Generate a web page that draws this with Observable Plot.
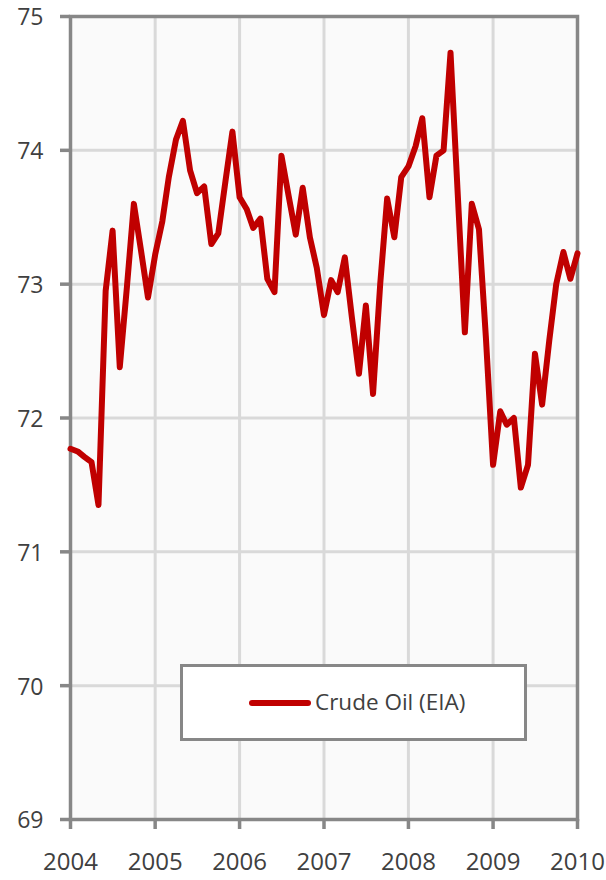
<!DOCTYPE html>
<html>
<head>
<meta charset="utf-8">
<script src="https://cdn.jsdelivr.net/npm/d3@7"></script>
<script src="https://cdn.jsdelivr.net/npm/@observablehq/plot@0.6"></script>
<style>
  html, body { margin: 0; padding: 0; background: #fff; }
  #wrap { position: relative; width: 606px; height: 880px; }
  #legend {
    position: absolute; left: 180px; top: 664px; width: 341px; height: 71px;
    border: 3px solid #878787; background: #fff; box-sizing: content-box;
    font-family: "Open Sans", sans-serif; font-size: 22.5px; color: #404040;
  }
  #legend .sw { position: absolute; left: 66px; top: 33px; width: 62px; height: 6px; border-radius: 3px; background: #c00000; }
  #legend .tx { position: absolute; left: 132px; top: 21px; line-height: 28px; white-space: nowrap; }
</style>
</head>
<body>
<div id="wrap"></div>
<script>
// Data: monthly values, Jan 2004 – Jan 2010
const startYear = 2004;
const seriesName = "Crude Oil (EIA)";
const values = [
  71.77, 71.75, 71.71, 71.67, 71.35, 72.95, 73.40, 72.38, 72.98, 73.60, 73.25, 72.90, // 2004
  73.22, 73.47, 73.80, 74.08, 74.22, 73.85, 73.68, 73.73, 73.30, 73.38, 73.77, 74.14, // 2005
  73.65, 73.56, 73.42, 73.49, 73.04, 72.94, 73.96, 73.66, 73.37, 73.72, 73.35, 73.12, // 2006
  72.77, 73.03, 72.94, 73.20, 72.76, 72.33, 72.84, 72.18, 73.00, 73.64, 73.35, 73.80, // 2007
  73.88, 74.03, 74.24, 73.65, 73.96, 74.00, 74.73, 73.68, 72.64, 73.60, 73.41, 72.60, // 2008
  71.65, 72.05, 71.95, 72.00, 71.48, 71.65, 72.48, 72.10, 72.58, 73.00, 73.24, 73.04, // 2009
  73.23                                                                                // 2010
];
const yTicks = [69, 70, 71, 72, 73, 74, 75];
const xTickYears = [2004, 2005, 2006, 2007, 2008, 2009, 2010];

const data = values.map((v, i) => ({date: new Date(Date.UTC(startYear, i, 1)), value: v}));
const xTicks = xTickYears.map(y => new Date(Date.UTC(y, 0, 1)));

const axisGray = "#878787";
const textColor = "#404040";

const chart = Plot.plot({
  width: 606,
  height: 880,
  marginLeft: 70,
  marginRight: 29,
  marginTop: 16,
  marginBottom: 61,
  style: {fontFamily: "'Open Sans', sans-serif", fontSize: "24px", background: "transparent", color: textColor},
  x: {type: "utc", domain: [xTicks[0], xTicks[xTicks.length - 1]]},
  y: {domain: [yTicks[0], yTicks[yTicks.length - 1]]},
  marks: [
    Plot.frame({fill: "#fafafa", stroke: null}),
    Plot.gridX(xTicks, {stroke: "#d9d9d9", strokeOpacity: 1, strokeWidth: 3}),
    Plot.gridY(yTicks, {stroke: "#d9d9d9", strokeOpacity: 1, strokeWidth: 3}),
    Plot.frame({stroke: axisGray, strokeWidth: 3.5}),
    Plot.axisX(xTicks, {tickFormat: d => String(d.getUTCFullYear()), tickSize: 10, tickPadding: 23, stroke: axisGray, strokeWidth: 3.5, fill: textColor, fontSize: 24, label: null}),
    Plot.axisY(yTicks, {tickFormat: () => "", tickSize: 10, stroke: axisGray, strokeWidth: 3.5, label: null}),
    Plot.axisY(yTicks, {tickFormat: d => String(d), tickSize: 0, tickPadding: 27, dy: 1.5, fill: textColor, fontSize: 23, label: null}),
    Plot.line(data, {x: "date", y: "value", stroke: "#c00000", strokeWidth: 6, strokeLinejoin: "round", strokeLinecap: "round"})
  ]
});

const wrap = document.getElementById("wrap");
wrap.appendChild(chart);
const legend = document.createElement("div");
legend.id = "legend";
legend.innerHTML = '<span class="sw"></span><span class="tx"></span>';
legend.querySelector(".tx").textContent = seriesName;
wrap.appendChild(legend);
</script>
</body>
</html>
